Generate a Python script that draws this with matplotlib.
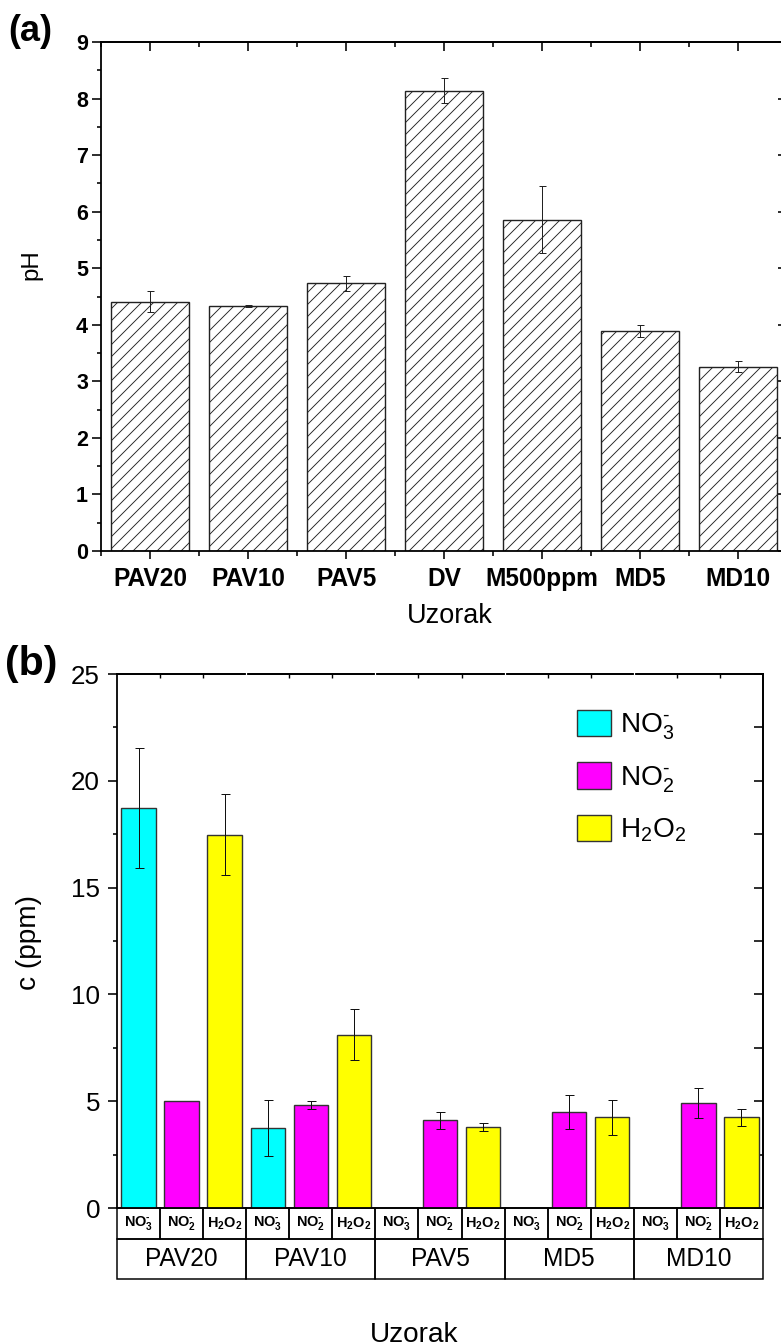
import numpy as np
import matplotlib
matplotlib.use("Agg")
import matplotlib.pyplot as plt
from matplotlib.patches import Rectangle
from matplotlib.ticker import MultipleLocator, FixedLocator

plt.rcParams['font.family'] = ['Liberation Sans', 'DejaVu Sans']
plt.rcParams['mathtext.fontset'] = 'custom'
plt.rcParams['mathtext.rm'] = 'Liberation Sans'
plt.rcParams['mathtext.it'] = 'Liberation Sans:italic'
plt.rcParams['mathtext.bf'] = 'Liberation Sans:bold'
plt.rcParams['mathtext.default'] = 'regular'
plt.rcParams['hatch.linewidth'] = 0.9

# ---------------- data ----------------
ph_samples = ['PAV20', 'PAV10', 'PAV5', 'DV', 'M500ppm', 'MD5', 'MD10']
ph_values = [4.41, 4.33, 4.73, 8.14, 5.86, 3.89, 3.26]
ph_errors = [0.185, 0.02, 0.13, 0.215, 0.585, 0.11, 0.10]

groups = ['PAV20', 'PAV10', 'PAV5', 'MD5', 'MD10']
species_labels = ['$\\mathbf{NO_3^{\u2010}}$', '$\\mathbf{NO_2^{\u2010}}$', r'$\mathbf{H_2O_2}$']
legend_labels = ['NO$_3^{\u2010}$', 'NO$_2^{\u2010}$', r'H$_2$O$_2$']
no3 = [18.71, 3.75, 0, 0, 0]
no3_err = [2.81, 1.30, 0, 0, 0]
no2 = [4.99, 4.82, 4.10, 4.48, 4.90]
no2_err = [0, 0.20, 0.41, 0.80, 0.70]
h2o2 = [17.47, 8.11, 3.79, 4.24, 4.24]
h2o2_err = [1.90, 1.20, 0.20, 0.80, 0.41]
colors = ['#00FFFF', '#FF00FF', '#FFFF00']

W, H = 781, 1344
fig = plt.figure(figsize=(W / 72, H / 72), dpi=72)


def ftext(xp, yp, s, **kw):
    fig.text(xp / W, 1 - yp / H, s, **kw)


# ---------------- panel (a) ----------------
ax1 = fig.add_axes([101 / W, 1 - 551 / H, 686 / W, 509 / H])
x1 = np.arange(len(ph_samples))
ax1.bar(x1, ph_values, width=0.8, facecolor='white', edgecolor='#222222',
        linewidth=1.4, hatch='//', zorder=2)
ax1.errorbar(x1, ph_values, yerr=ph_errors, fmt='none', ecolor='#222222',
             elinewidth=1.0, capsize=3.5, capthick=1.0, zorder=3)
ax1.set_xlim(-0.5, 6.5)
ax1.set_ylim(0, 9)
ax1.set_xticks(x1)
ax1.set_xticklabels(ph_samples, fontsize=24.5, fontweight='bold')
ax1.xaxis.set_minor_locator(FixedLocator(np.arange(-0.5, 7, 1)))
ax1.yaxis.set_major_locator(MultipleLocator(1))
ax1.yaxis.set_minor_locator(MultipleLocator(0.5))
for lab in ax1.get_yticklabels():
    lab.set_fontweight('bold')
    lab.set_fontsize(21.5)
ax1.tick_params(axis='x', which='major', direction='out', length=8, width=1.6,
                pad=8, top=False)
ax1.tick_params(axis='x', which='minor', direction='out', length=5, width=1.6, top=False)
ax1.tick_params(axis='y', which='major', direction='out', length=9, width=1.6,
                pad=4, right=False)
ax1.tick_params(axis='y', which='minor', direction='out', length=4.5, width=1.6, right=False)
for sp in ax1.spines.values():
    sp.set_linewidth(1.8)

sx1 = ax1.secondary_xaxis('top')
sx1.set_xticks(x1)
sx1.xaxis.set_minor_locator(FixedLocator(np.arange(-0.5, 7, 1)))
sx1.tick_params(which='major', direction='in', length=9, width=1.6, labeltop=False)
sx1.tick_params(which='minor', direction='in', length=4.5, width=1.6)
sx1.spines['top'].set_linewidth(1.8)
sy1 = ax1.secondary_yaxis('right')
sy1.set_yticks(np.arange(0, 10, 1))
sy1.tick_params(which='major', direction='in', length=9, width=1.6, labelright=False)
sy1.spines['right'].set_linewidth(1.8)

ftext(8, 41, '(a)', fontsize=36, fontweight='bold', ha='left', va='baseline')
ftext(31, 265, 'pH', fontsize=24, rotation=90, ha='center', va='center')
ftext(450, 623, 'Uzorak', fontsize=27, ha='center', va='baseline')

# ---------------- panel (b) ----------------
ax2 = fig.add_axes([117 / W, 1 - 1208 / H, 646 / W, 534 / H])
ng = len(groups)
series = [(no3, no3_err), (no2, no2_err), (h2o2, h2o2_err)]
handles = []
for k, (vals, errs) in enumerate(series):
    xs = np.arange(ng) * 3 + k
    b = ax2.bar(xs, vals, width=0.8, facecolor=colors[k], edgecolor='#333333',
                linewidth=1.4, zorder=2)
    handles.append(b)
    xe = [x for x, e in zip(xs, errs) if e > 0]
    ve = [v for v, e in zip(vals, errs) if e > 0]
    ee = [e for e in errs if e > 0]
    ax2.errorbar(xe, ve, yerr=ee, fmt='none', ecolor='#111111', elinewidth=1.0,
                 capsize=4.5, capthick=1.0, zorder=3)

ax2.set_xlim(-0.5, 3 * ng - 0.5)
ax2.set_ylim(0, 25)
ax2.yaxis.set_major_locator(MultipleLocator(5))
ax2.yaxis.set_minor_locator(MultipleLocator(2.5))
ax2.tick_params(axis='x', which='both', bottom=False, top=False, labelbottom=False)
ax2.tick_params(axis='y', which='major', direction='out', length=9, width=1.6,
                pad=8, labelsize=26, right=False)
ax2.tick_params(axis='y', which='minor', direction='out', length=4.5, width=1.6, right=False)
for sp in ax2.spines.values():
    sp.set_linewidth(1.8)

inner = [b for b in np.arange(0.5, 3 * ng - 1, 1) if (b + 0.5) % 3 != 0]
sx2 = ax2.secondary_xaxis('top')
sx2.set_xticks(inner)
sx2.tick_params(which='major', direction='in', length=4, width=1.4, labeltop=False)
sx2.spines['top'].set_linewidth(1.8)
sy2 = ax2.secondary_yaxis('right')
sy2.set_yticks(np.arange(0, 25.1, 2.5))
sy2.tick_params(which='major', direction='in', length=9, width=1.6, labelright=False)
sy2.spines['right'].set_linewidth(1.8)

# white notches on top spine at group boundaries
tr = ax2.get_xaxis_transform()
for g in range(1, ng):
    xb = 3 * g - 0.5
    ax2.plot([xb, xb], [1 - 2.5 / 534, 1 + 2.5 / 534], color='white', lw=1.2,
             transform=tr, clip_on=False, zorder=10)

# category table under the axis
r1 = -31 / 534
r2 = -71 / 534
for i in range(3 * ng):
    ax2.add_patch(Rectangle((i - 0.5, r1), 1, -r1, transform=tr, facecolor='none',
                            edgecolor='black', linewidth=1.5, clip_on=False))
    ax2.text(i, r1 / 2, species_labels[i % 3], transform=tr, ha='center', va='center',
             fontsize=14.5)
for g, name in enumerate(groups):
    ax2.add_patch(Rectangle((3 * g - 0.5, r2), 3, r1 - r2, transform=tr, facecolor='none',
                            edgecolor='black', linewidth=1.5, clip_on=False))
    ax2.text(3 * g + 1, (r1 + r2) / 2, name, transform=tr, ha='center', va='center',
             fontsize=24.5)

ax2.legend(handles=handles, labels=legend_labels, loc='upper left',
           bbox_to_anchor=(577 / W, 1 - 710 / H), bbox_transform=fig.transFigure,
           frameon=False, fontsize=28, handlelength=1.22, handleheight=1.07,
           handletextpad=0.3, labelspacing=0.72, borderpad=0, borderaxespad=0)

ftext(5, 675, '(b)', fontsize=41, fontweight='bold', ha='left', va='baseline')
ftext(29.5, 942, 'c (ppm)', fontsize=28, rotation=90, ha='center', va='center')
ftext(414, 1342, 'Uzorak', fontsize=28, ha='center', va='baseline')

fig.savefig('out.png', dpi=72)
